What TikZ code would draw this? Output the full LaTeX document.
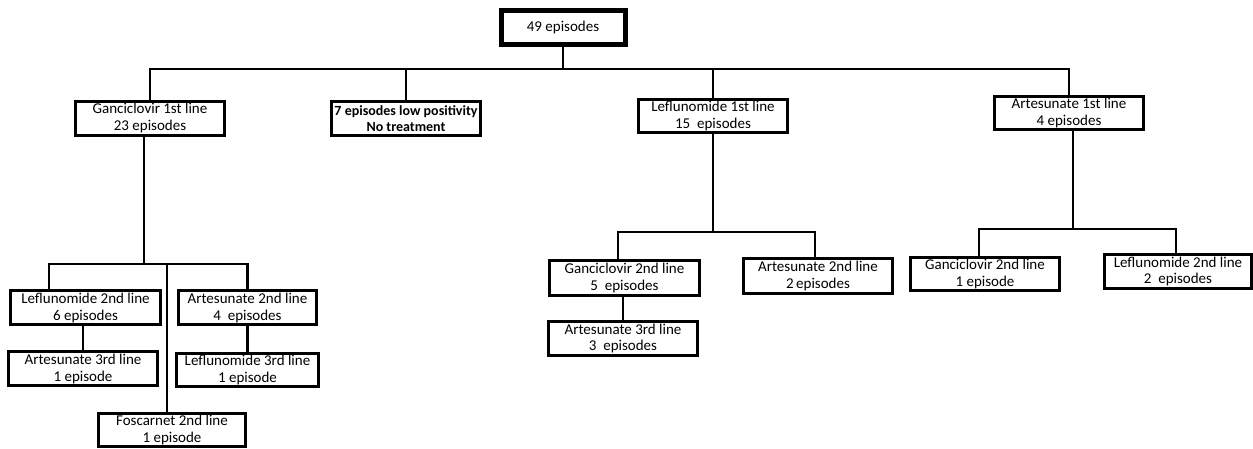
\documentclass[tikz,border=0pt]{standalone}
\usepackage{fontspec}
\setmainfont{Carlito}
\begin{document}
\begin{tikzpicture}[x=1pt,y=-1pt,
  box/.style={draw=black,line width=3pt,fill=white,inner sep=0pt,align=center,
    font=\fontsize{15}{17}\selectfont},
  rootbox/.style={box,line width=5pt},
  link/.style={draw=black,line width=2.8pt,line cap=rect}]
\useasboundingbox (0,0) rectangle (1253,449);
% bus coordinates
\coordinate (bus0) at (0,69);
\coordinate (bus1) at (0,264);
\coordinate (bus2) at (0,232);
\coordinate (bus3) at (0,229);
% nodes
\node[rootbox,minimum width=124pt,minimum height=34pt] (root) at (563,27.5) {49 episodes};
\node[box,minimum width=149pt,minimum height=34pt] (G1) at (150,118.5) {Ganciclovir 1st line\\23 episodes};
\node[box,minimum width=149pt,minimum height=34pt,font=\bfseries\fontsize{14}{16.5}\selectfont] (N7) at (406,118.5) {7 episodes low positivity\\No treatment};
\node[box,minimum width=149pt,minimum height=33pt] (L1) at (713,116) {Leflunomide 1st line\\15~~episodes};
\node[box,minimum width=149pt,minimum height=33pt] (A1) at (1069,113) {Artesunate 1st line\\4 episodes};
% Ganciclovir subtree
\node[box,minimum width=150pt,minimum height=34pt] (L2a) at (85.5,307.5) {Leflunomide 2nd line\\6 episodes};
\node[box,minimum width=138pt,minimum height=34pt] (A2a) at (247.5,307.5) {Artesunate 2nd line\\4~~episodes};
\node[box,minimum width=149pt,minimum height=34pt] (A3a) at (83,368.5) {Artesunate 3rd line\\1 episode};
\node[box,minimum width=142pt,minimum height=33pt] (L3a) at (247.5,370) {Leflunomide 3rd line\\1 episode};
\node[box,minimum width=147pt,minimum height=33pt] (F2) at (172,429.5) {Foscarnet 2nd line\\1 episode};
% Leflunomide subtree
\node[box,minimum width=150pt,minimum height=35pt] (G2m) at (624.5,278) {Ganciclovir 2nd line\\5~~episodes};
\node[box,minimum width=149pt,minimum height=35pt] (A2m) at (818,276) {Artesunate 2nd line\\2\,episodes};
\node[box,minimum width=149pt,minimum height=34pt] (A3m) at (623,338.5) {Artesunate 3rd line\\3~~episodes};
% Artesunate subtree
\node[box,minimum width=149pt,minimum height=33pt] (G2r) at (985,274) {Ganciclovir 2nd line\\1 episode};
\node[box,minimum width=147pt,minimum height=34pt] (L2r) at (1178,271.5) {Leflunomide 2nd line\\2~~episodes};
% connectors level 0
\draw[link] (root.south) -- (root.south |- bus0);
\draw[link] (G1.north) |- (A1.north |- bus0) -- (A1.north);
\draw[link] (N7.north) -- (N7.north |- bus0);
\draw[link] (L1.north) -- (L1.north |- bus0);
% Ganciclovir subtree
\draw[link] ([xshift=-6pt]G1.south) -- ([xshift=-6pt]G1.south |- bus1);
\draw[link] ([xshift=-36.5pt]L2a.north) |- (A2a.north |- bus1) -- (A2a.north);
\draw[link] ([xshift=-5pt]F2.north) -- ([xshift=-5pt]F2.north |- bus1);
\draw[link] (A3a.north) -- (A3a.north |- L2a.south);
\draw[link] (L3a.north) -- (L3a.north |- A2a.south);
% Leflunomide subtree
\draw[link] (L1.south) -- (L1.south |- bus2);
\draw[link] ([xshift=-6.5pt]G2m.north) |- ([xshift=-3pt]A2m.north |- bus2) -- ([xshift=-3pt]A2m.north);
\draw[link] (A3m.north) -- (A3m.north |- G2m.south);
% Artesunate subtree
\draw[link] ([xshift=4pt]A1.south) -- ([xshift=4pt]A1.south |- bus3);
\draw[link] ([xshift=-6pt]G2r.north) |- ([xshift=-2pt]L2r.north |- bus3) -- ([xshift=-2pt]L2r.north);
\end{tikzpicture}
\end{document}
